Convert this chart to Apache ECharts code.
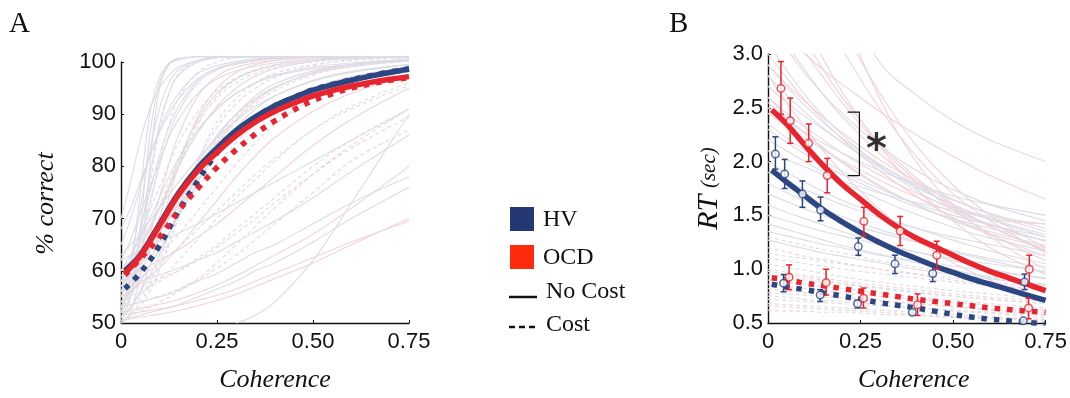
<!DOCTYPE html>
<html>
<head>
<meta charset="utf-8">
<script src="https://cdn.jsdelivr.net/npm/echarts@6/dist/echarts.min.js"></script>
<style>
html,body{margin:0;padding:0;background:#fff;}
#c{width:1070px;height:398px;}
</style>
</head>
<body>
<div id="c"></div>
<script>
// ---------- Panel A data (% correct vs coherence) ----------
const aX = [0.01,0.05,0.1,0.15,0.2,0.25,0.3,0.35,0.4,0.45,0.5,0.55,0.6,0.65,0.7,0.75];
const aHvNoCost  = [60.0,63.0,68.9,74.9,79.7,83.5,86.9,89.5,91.6,93.2,94.6,95.6,96.5,97.3,98.0,98.6];
const aOcdNoCost = [59.5,62.8,68.6,74.6,79.2,82.7,85.9,88.5,90.5,92.1,93.5,94.5,95.4,96.1,96.7,97.2];
const aHvCost    = [56.6,59.6,64.8,71.5,77.2,82.6,86.6,89.4,91.6,93.2,94.7,95.7,96.6,97.4,98.1,98.7];
const aOcdCost   = [59.2,62.3,66.4,71.5,75.8,79.8,83.2,86.2,88.7,90.8,92.6,93.9,95.0,95.8,96.5,97.0];

// individual participant fits (background)
const aBgX = [0,0.025,0.05,0.075,0.1,0.125,0.15,0.2,0.25,0.3,0.35,0.4,0.5,0.6,0.75];
const aBgGreySolid = [
  [50,52,60,80,95,99.5,100.5,101,101,101,101,101,101,101,101],
  [51,55,68,86,96,99.5,100.5,101,101,101,101,101,101,101,101],
  [53,58,67,78,88,94,97.5,100,100.8,101,101,101,101,101,101],
  [55,60,66,73,80,86,90.5,96,98.5,99.6,100.3,100.7,101,101,101],
  [52,55,59,64,70,76,81,89,94,96.8,98.3,99.2,100.2,100.7,101],
  [57,60,64,68,72,76,80,86.5,91,94,96,97.5,99,99.8,100.5],
  [60,63,66,70,74,78,81.5,87,91,94,96,97.3,98.7,99.5,100.2],
  [54,56,58,61,64,67,70.5,77,83,87.5,91,93.5,96.5,98.2,99.5],
  [62,66,71,76,81,85.5,89,94,96.8,98.3,99.2,99.8,100.5,100.8,101],
  [58,62,68,75,82,87.5,91.5,96.5,98.8,99.8,100.4,100.8,101,101,101],
  [65,70,76,82,87,91,94,97.8,99.3,100.1,100.6,100.9,101,101,101],
  [70,77,85,91,95,97.5,99,100.3,100.8,101,101,101,101,101,101],
  [56,58,61,64,67,70.5,74,80.5,86,90,93,95.2,97.8,99.1,100.2],
  [51,53,56,59,63,67,71,79,85.5,90,93.5,95.8,98.3,99.5,100.4],
  [59,61,63,65,67.5,70,72.5,77.5,82,86,89,91.5,95,97.2,99],
  [63,65,67,69.5,72,74.5,77,81.5,85.5,88.8,91.5,93.5,96.3,98,99.5],
  [50.5,51,51.5,52,52.5,53,53.5,55,56.5,58,60,61.5,65.5,70,76],
  [53,53.5,54,54.5,55,55.5,56.3,58,59.5,61.5,63.5,65,69,73,78],
  [62,63,64,64.8,65.6,66.4,67.2,69,71,73,75,77,81,85,91],
  [null,null,null,null,null,null,null,null,null,50,51.5,54,62,73,90],
  [57,57.5,58,58.6,59.2,59.8,60.5,62,63.5,65.5,67.5,69.5,74,79,86],
  [52,60,75,90,97,99.8,100.7,101,101,101,101,101,101,101,101],
  [56,62,72,83,91,96,98.5,100.3,100.9,101,101,101,101,101,101],
  [68,72,77,82,86.5,90,93,96.8,98.7,99.6,100.2,100.6,101,101,101]
];
const aBgGreyDashed = [
  [52,56,63,72,81,88,93,98,100,100.8,101,101,101,101,101],
  [55,58,62,67,72,77,81.5,88.5,93,96,97.8,98.8,100,100.6,101],
  [50,51.5,54,57,61,65.5,70,78.5,85,89.5,92.8,95,97.8,99.2,100.3],
  [57,59,61,63.5,66,68.5,71,76,80.5,84.5,88,90.5,94.5,97,99],
  [53,54,55.5,57,58.5,60,62,66,70,74,77.5,81,87,91.5,96],
  [60,63,67,71.5,76,80.5,84.5,90.5,94.5,97,98.5,99.4,100.4,100.8,101],
  [54,55,56,57,58,59,60,62.5,65,68,71,74,80,85,91],
  [50,51,53,56,60,65,71,81,88.5,93,96,97.8,99.5,100.3,100.8],
  [56,57,58.5,60,61.5,63,64.5,68,71.5,75,78.5,81.5,87,91,95.5],
  [53,57,65,76,87,94,97.7,100.2,100.9,101,101,101,101,101,101]
];
const aBgPinkSolid = [
  [53,56,61,67,74,80.5,86,93.5,97.3,99,99.8,100.3,100.8,101,101],
  [57,59,61.5,64,67,70,73,79,84.5,89,92.5,95,98,99.5,100.5],
  [50.5,50.8,51.1,51.4,51.7,52,52.4,53.3,54.3,55.5,57,58.5,61.5,65,70],
  [52,52.4,52.8,53.2,53.6,54,54.5,55.8,57.3,59,61,63,67,72,80],
  [51.5,51.8,52.1,52.4,52.7,53,53.4,54.3,55.3,56.5,58,59.5,62.5,65.5,69.5],
  [60,62,65,68.5,72,76,80,86.5,91.5,95,97.3,98.7,100.2,100.8,101],
  [55,56,57.5,59,60.5,62.5,64.5,69,73.5,78,82,85.5,90.5,94,97.5],
  [51,53,56,61,67,74,80,89.5,95,98,99.5,100.3,100.9,101,101],
  [58,59,60,61,62,63,64,66.5,69,72,75,78,84,89,95]
];
const aBgPinkDashed = [
  [54,57,61,65.5,70.5,75.5,80,88,93.5,96.7,98.5,99.5,100.5,100.9,101],
  [58,59,60.5,62,63.5,65,67,71.5,76,80.5,84.5,88,93,96.3,98.7],
  [51,51.5,52.2,53,54,55,56,58.5,61.5,65,68.5,72,78.5,84,91],
  [56,56.5,57,57.8,58.5,59.3,60,62,64.5,67.2,70,73,78.5,83.5,89.5],
  [53,53.5,54,54.6,55.2,55.8,56.5,58.3,60.5,63,66,69,75,81,87],
  [52,53,55,58,62,67,72,81,87.5,92,95,97,99.3,100.4,101],
  [55,56.5,58.5,61,64,67.5,71,78,84,88.5,92,94.5,97.5,99.2,100.5]
];

// ---------- Panel B data (RT vs coherence) ----------
const bX = [0.01,0.05,0.1,0.15,0.2,0.25,0.3,0.35,0.4,0.45,0.5,0.55,0.6,0.65,0.7,0.75];
const bOcdNoCost = [2.48,2.35,2.15,1.96,1.79,1.65,1.51,1.39,1.29,1.21,1.13,1.05,0.98,0.92,0.86,0.80];
const bHvNoCost  = [1.92,1.81,1.68,1.55,1.44,1.34,1.25,1.17,1.10,1.03,0.97,0.91,0.86,0.81,0.76,0.71];
const bOcdCost   = [0.92,0.90,0.87,0.845,0.82,0.795,0.77,0.745,0.72,0.70,0.68,0.66,0.64,0.625,0.61,0.60];
const bHvCost    = [0.86,0.835,0.81,0.78,0.75,0.72,0.69,0.665,0.64,0.61,0.58,0.555,0.535,0.52,0.505,0.49];

// observed means with error bars
const ocdNcX  = [0.035,0.060,0.110,0.160,0.259,0.357,0.456,0.706];
const ocdNcY  = [2.68,2.38,2.17,1.87,1.445,1.355,1.13,1.0];
const ocdNcLo = [2.44,2.17,2.0,1.71,1.31,1.22,1.0,0.855];
const ocdNcHi = [2.93,2.59,2.35,2.03,1.575,1.49,1.26,1.13];
const hvNcX   = [0.020,0.045,0.093,0.142,0.244,0.343,0.445,0.693];
const hvNcY   = [2.07,1.885,1.70,1.55,1.21,1.05,0.96,0.88];
const hvNcLo  = [1.93,1.75,1.575,1.45,1.13,0.96,0.885,0.81];
const hvNcHi  = [2.23,2.02,1.82,1.67,1.29,1.13,1.03,0.955];
const ocdCX   = [0.057,0.157,0.258,0.404,0.704];
const ocdCY   = [0.925,0.875,0.73,0.67,0.64];
const ocdCLo  = [0.81,0.76,0.64,0.57,0.54];
const ocdCHi  = [1.04,1.0,0.825,0.77,0.73];
const hvCX    = [0.042,0.141,0.242,0.39,0.69];
const hvCY    = [0.87,0.76,0.68,0.60,0.52];
const hvCLo   = [0.79,0.70,0.64,0.58,0.51];
const hvCHi   = [0.95,0.81,0.71,0.62,0.53];

const bBgX = [0,0.05,0.1,0.15,0.2,0.3,0.4,0.5,0.6,0.75];
const bBgGreySolid = [
  [null,null,null,null,3.6,2.93,2.62,2.38,2.2,2.0],
  [2.7,2.55,2.42,2.3,2.18,1.97,1.77,1.6,1.46,1.3],
  [2.5,2.38,2.27,2.17,2.08,1.92,1.79,1.68,1.6,1.5],
  [2.35,2.22,2.1,2.0,1.91,1.75,1.61,1.5,1.41,1.3],
  [2.2,2.1,2.0,1.9,1.81,1.65,1.51,1.39,1.29,1.17],
  [2.0,1.9,1.81,1.72,1.64,1.5,1.38,1.27,1.17,1.05],
  [1.8,1.71,1.63,1.56,1.49,1.37,1.26,1.16,1.08,0.97],
  [1.6,1.53,1.47,1.41,1.35,1.25,1.16,1.08,1.0,0.91],
  [1.42,1.37,1.32,1.27,1.22,1.14,1.06,0.99,0.93,0.86],
  [1.27,1.23,1.19,1.15,1.12,1.06,1.0,0.95,0.91,0.85],
  [2.9,2.7,2.52,2.36,2.22,1.98,1.79,1.64,1.52,1.38],
  [3.1,2.85,2.62,2.42,2.25,1.96,1.73,1.55,1.42,1.26],
  [2.6,2.42,2.26,2.12,1.99,1.77,1.6,1.46,1.35,1.22],
  [2.8,2.62,2.46,2.31,2.18,1.95,1.76,1.6,1.47,1.32],
  [2.3,2.18,2.07,1.97,1.88,1.72,1.58,1.47,1.38,1.27],
  [1.9,1.82,1.74,1.67,1.6,1.48,1.38,1.3,1.23,1.13],
  [1.7,1.63,1.56,1.5,1.44,1.34,1.25,1.17,1.1,1.02],
  [1.5,1.45,1.4,1.35,1.31,1.23,1.16,1.1,1.05,0.98],
  [1.35,1.31,1.27,1.23,1.2,1.13,1.08,1.03,0.98,0.92],
  [3.3,3.05,2.82,2.62,2.45,2.15,1.92,1.74,1.6,1.45],
  [2.1,2.02,1.95,1.88,1.82,1.71,1.62,1.55,1.49,1.42]
];
const bBgPinkSolid = [
  [4.0,3.6,3.25,2.95,2.65,2.15,1.75,1.45,1.2,0.95],
  [3.0,2.78,2.57,2.38,2.21,1.92,1.68,1.48,1.32,1.12],
  [3.3,3.15,3.0,2.85,2.72,2.47,2.25,2.05,1.87,1.65],
  [4.5,4.1,3.7,3.35,3.05,2.5,2.05,1.7,1.45,1.15],
  [2.6,2.45,2.32,2.2,2.08,1.88,1.71,1.57,1.47,1.42],
  [2.8,2.55,2.32,2.1,1.9,1.56,1.28,1.06,0.9,0.72],
  [3.6,3.3,3.02,2.78,2.55,2.15,1.82,1.55,1.33,1.08],
  [2.45,2.33,2.22,2.11,2.01,1.83,1.67,1.53,1.41,1.26],
  [5.0,4.5,4.0,3.6,3.25,2.65,2.15,1.78,1.5,1.2],
  [3.4,3.1,2.85,2.62,2.42,2.08,1.8,1.58,1.4,1.18],
  [3.9,3.5,3.15,2.85,2.6,2.18,1.85,1.6,1.4,1.17],
  [2.9,2.72,2.56,2.41,2.27,2.02,1.82,1.65,1.51,1.35],
  [6.0,5.2,4.5,3.9,3.4,2.6,2.0,1.6,1.3,1.0],
  [2.55,2.4,2.26,2.13,2.0,1.78,1.6,1.45,1.33,1.2]
];
const bBgGreyDashed = [
  [1.05,1.02,0.99,0.96,0.93,0.88,0.84,0.8,0.77,0.72],
  [0.98,0.95,0.92,0.9,0.87,0.83,0.79,0.75,0.72,0.68],
  [0.9,0.88,0.86,0.84,0.82,0.78,0.74,0.71,0.68,0.64],
  [0.82,0.8,0.78,0.76,0.74,0.71,0.68,0.65,0.62,0.58],
  [0.75,0.74,0.72,0.71,0.7,0.67,0.64,0.61,0.59,0.55],
  [0.68,0.67,0.66,0.65,0.64,0.62,0.6,0.58,0.56,0.53],
  [0.62,0.61,0.61,0.6,0.6,0.58,0.57,0.55,0.54,0.52],
  [1.15,1.12,1.1,1.07,1.05,1.0,0.96,0.92,0.88,0.83],
  [1.3,1.26,1.22,1.18,1.15,1.08,1.02,0.97,0.92,0.86],
  [1.1,1.08,1.05,1.03,1.0,0.96,0.92,0.88,0.85,0.8],
  [0.95,0.93,0.9,0.88,0.86,0.82,0.78,0.75,0.72,0.68],
  [0.72,0.71,0.7,0.69,0.68,0.66,0.64,0.62,0.6,0.57]
];
const bBgPinkDashed = [
  [1.0,0.97,0.94,0.92,0.89,0.85,0.81,0.77,0.74,0.7],
  [0.86,0.84,0.82,0.8,0.78,0.75,0.72,0.69,0.66,0.62],
  [0.78,0.77,0.76,0.74,0.73,0.7,0.68,0.65,0.63,0.6],
  [1.2,1.16,1.12,1.09,1.06,1.0,0.95,0.9,0.86,0.8],
  [0.66,0.65,0.64,0.63,0.62,0.6,0.58,0.56,0.55,0.53]
];

// significance bracket
const bracketX = [0.215,0.247,0.247,0.215];
const bracketY = [2.46,2.46,1.87,1.87];
const starPos = [0.293,2.17];

// tick labels
const xTickLabels = {0:'0',0.25:'0.25',0.5:'0.50',0.75:'0.75'};

// ---------- styling ----------
const NAVY = '#2C4682';
const RED = '#E8252E';
const GREY = '#DCDCE6';
const PINK = '#F2D2D8';
const SANS = 'Liberation Sans';
const SERIF = 'Liberation Serif';

const zip = (xs, ys) => xs.map((x, i) => [x, ys[i]]);

function bgSeries(xs, rows, color, dashed, gi, clip) {
  return rows.map(r => ({
    type: 'line', xAxisIndex: gi, yAxisIndex: gi, data: zip(xs, r),
    smooth: 0.4, symbol: 'none', silent: true, z: 1, clip: clip,
    lineStyle: { color: color, width: 1.1, type: dashed ? [4, 3] : 'solid' }
  }));
}
function mainSeries(xs, ys, color, dashed, gi) {
  return {
    type: 'line', xAxisIndex: gi, yAxisIndex: gi, data: zip(xs, ys),
    smooth: 0.4, symbol: 'none', silent: true, z: 3,
    lineStyle: { color: color, width: 5.5, type: dashed ? [5.5, 7] : 'solid', cap: 'butt' }
  };
}
function errSeries(xs, ys, lo, hi, color) {
  return {
    type: 'custom', xAxisIndex: 1, yAxisIndex: 1, z: 4, silent: true, clip: false,
    data: xs.map((x, i) => [x, ys[i], lo[i], hi[i]]),
    renderItem: function (params, api) {
      const p1 = api.coord([api.value(0), api.value(2)]);
      const p2 = api.coord([api.value(0), api.value(3)]);
      const w = 3;
      const st = { stroke: color, lineWidth: 1.5 };
      return { type: 'group', children: [
        { type: 'line', shape: { x1: p1[0], y1: p1[1], x2: p2[0], y2: p2[1] }, style: st },
        { type: 'line', shape: { x1: p1[0]-w, y1: p1[1], x2: p1[0]+w, y2: p1[1] }, style: st },
        { type: 'line', shape: { x1: p2[0]-w, y1: p2[1], x2: p2[0]+w, y2: p2[1] }, style: st }
      ]};
    }
  };
}
function ptSeries(xs, ys, color) {
  return {
    type: 'scatter', xAxisIndex: 1, yAxisIndex: 1, z: 5, silent: true,
    data: zip(xs, ys), symbol: 'circle', symbolSize: 7.5,
    itemStyle: { color: '#fff', borderColor: color, borderWidth: 1.5 }
  };
}

const titleRich = { t: { fontFamily: SERIF, fontStyle: 'italic', fontSize: 26, color: '#111' } };

function xAxisCfg(gi, shift) {
  return {
    gridIndex: gi, type: 'value', min: 0, max: 0.75, interval: 0.25,
    name: '{t|Coherence}', nameLocation: 'middle', nameGap: 44,
    nameTextStyle: { color: '#111', padding: [0, 0, 0, shift], rich: titleRich },
    axisLine: { show: true, onZero: false, lineStyle: { color: '#111', width: 1.4 } },
    axisTick: { show: true, inside: true, length: 3, lineStyle: { color: '#111', width: 1 } },
    splitLine: { show: false },
    axisLabel: { fontFamily: SANS, fontSize: 22, color: '#111', margin: 8,
      formatter: v => xTickLabels[v] !== undefined ? xTickLabels[v] : '' }
  };
}

const series = [];
series.push(...bgSeries(aBgX, aBgPinkDashed, PINK, true, 0, false));
series.push(...bgSeries(aBgX, aBgPinkSolid, PINK, false, 0, false));
series.push(...bgSeries(aBgX, aBgGreyDashed, GREY, true, 0, false));
series.push(...bgSeries(aBgX, aBgGreySolid, GREY, false, 0, false));
series.push(mainSeries(aX, aHvCost, NAVY, true, 0));
series.push(mainSeries(aX, aOcdCost, RED, true, 0));
series.push(mainSeries(aX, aHvNoCost, NAVY, false, 0));
series.push(mainSeries(aX, aOcdNoCost, RED, false, 0));

series.push(...bgSeries(bBgX, bBgGreyDashed, GREY, true, 1, true));
series.push(...bgSeries(bBgX, bBgPinkDashed, PINK, true, 1, true));
series.push(...bgSeries(bBgX, bBgPinkSolid, PINK, false, 1, true));
series.push(...bgSeries(bBgX, bBgGreySolid, GREY, false, 1, true));
series.push(mainSeries(bX, bHvCost, NAVY, true, 1));
series.push(mainSeries(bX, bOcdCost, RED, true, 1));
series.push(mainSeries(bX, bHvNoCost, NAVY, false, 1));
series.push(mainSeries(bX, bOcdNoCost, RED, false, 1));
series.push(errSeries(hvCX, hvCY, hvCLo, hvCHi, NAVY));
series.push(errSeries(ocdCX, ocdCY, ocdCLo, ocdCHi, RED));
series.push(errSeries(hvNcX, hvNcY, hvNcLo, hvNcHi, NAVY));
series.push(errSeries(ocdNcX, ocdNcY, ocdNcLo, ocdNcHi, RED));
series.push(ptSeries(hvCX, hvCY, NAVY));
series.push(ptSeries(ocdCX, ocdCY, RED));
series.push(ptSeries(hvNcX, hvNcY, NAVY));
series.push(ptSeries(ocdNcX, ocdNcY, RED));
series.push({
  type: 'line', xAxisIndex: 1, yAxisIndex: 1, data: zip(bracketX, bracketY),
  symbol: 'none', silent: true, z: 6, clip: false,
  lineStyle: { color: '#111', width: 1.2 }
});
series.push({
  type: 'scatter', xAxisIndex: 1, yAxisIndex: 1, data: [starPos], symbolSize: 1,
  itemStyle: { color: 'rgba(0,0,0,0)' }, silent: true, z: 6,
  label: { show: true, position: 'inside', formatter: '*', fontFamily: 'DejaVu Sans',
    fontSize: 40, fontWeight: 'bold', color: '#000', textBorderWidth: 0,
    textBorderColor: 'transparent', offset: [0, 8] }
});

const chart = echarts.init(document.getElementById('c'), null, { renderer: 'canvas' });
chart.setOption({
  backgroundColor: '#fff',
  animation: false,
  grid: [
    { left: 121, top: 62, width: 288, height: 266 },
    { left: 768, top: 54, width: 279, height: 275 }
  ],
  xAxis: [xAxisCfg(0, 20), xAxisCfg(1, 14)],
  yAxis: [
    {
      gridIndex: 0, type: 'value', min: 50, max: 100, interval: 10,
      name: '{t|% correct}', nameLocation: 'middle', nameGap: 62,
      nameTextStyle: { color: '#111', padding: [0, 22, 0, 0], rich: titleRich },
      axisLine: { show: true, lineStyle: { color: '#111', width: 1.4 } },
      axisTick: { show: true, inside: true, length: 3, lineStyle: { color: '#111', width: 1 } },
      splitLine: { show: false },
      axisLabel: { fontFamily: SANS, fontSize: 22, color: '#111', margin: 5 }
    },
    {
      gridIndex: 1, type: 'value', min: 0.5, max: 3.0, interval: 0.5,
      name: '{a|RT}  {b|(sec)}', nameLocation: 'middle', nameGap: 44,
      nameTextStyle: { color: '#111', rich: {
        a: { fontFamily: SERIF, fontStyle: 'italic', fontSize: 30, color: '#111' },
        b: { fontFamily: SERIF, fontStyle: 'italic', fontSize: 21, color: '#111' }
      } },
      axisLine: { show: true, lineStyle: { color: '#111', width: 1.4 } },
      axisTick: { show: true, inside: true, length: 3, lineStyle: { color: '#111', width: 1 } },
      splitLine: { show: false },
      axisLabel: { fontFamily: SANS, fontSize: 22, color: '#111', margin: 5,
        formatter: v => v.toFixed(1) }
    }
  ],
  graphic: [
    { type: 'text', left: 9, top: 10, style: { text: 'A', font: '29px "Liberation Serif"', fill: '#111' } },
    { type: 'text', left: 669, top: 10, style: { text: 'B', font: '29px "Liberation Serif"', fill: '#111' } },
    { type: 'rect', shape: { x: 510, y: 207, width: 24, height: 24 }, style: { fill: '#263874' } },
    { type: 'text', x: 543, y: 220, style: { text: 'HV', font: '24px "Liberation Serif"', fill: '#111', verticalAlign: 'middle' } },
    { type: 'rect', shape: { x: 510, y: 245, width: 24, height: 24 }, style: { fill: '#FF2A0C' } },
    { type: 'text', x: 543, y: 258, style: { text: 'OCD', font: '24px "Liberation Serif"', fill: '#111', verticalAlign: 'middle' } },
    { type: 'line', shape: { x1: 509, y1: 297, x2: 537, y2: 297 }, style: { stroke: '#111', lineWidth: 2.5 } },
    { type: 'text', x: 546, y: 292, style: { text: 'No Cost', font: '24px "Liberation Serif"', fill: '#111', verticalAlign: 'middle' } },
    { type: 'line', shape: { x1: 509, y1: 327, x2: 537, y2: 327 }, style: { stroke: '#111', lineWidth: 2.5, lineDash: [6, 4] } },
    { type: 'text', x: 546, y: 325, style: { text: 'Cost', font: '24px "Liberation Serif"', fill: '#111', verticalAlign: 'middle' } }
  ],
  series: series
});
</script>
</body>
</html>
